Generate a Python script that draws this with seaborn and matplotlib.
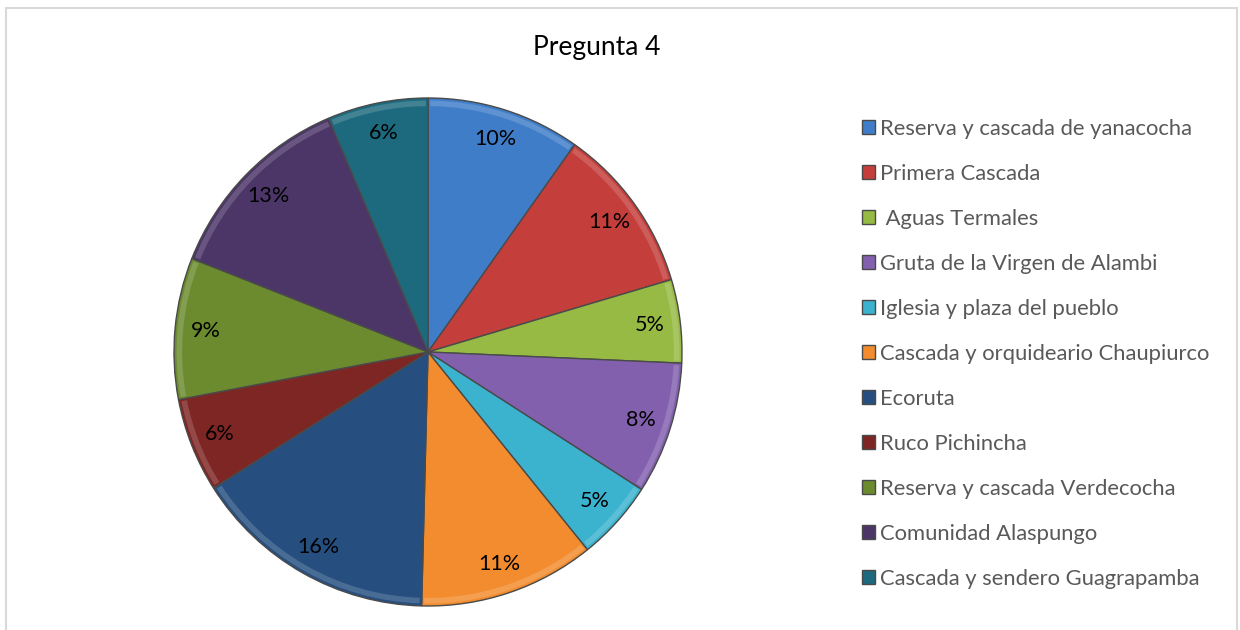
import matplotlib
matplotlib.use("Agg")
import matplotlib.pyplot as plt
import matplotlib.colors as mcolors
from matplotlib.patches import Wedge
import seaborn as sns

# Pregunta 4 - share of answers per attraction (percent)
places = [
    "Reserva y cascada de yanacocha",
    "Primera Cascada",
    " Aguas Termales",
    "Gruta de la Virgen de Alambi",
    "Iglesia y plaza del pueblo",
    "Cascada y orquideario Chaupiurco",
    "Ecoruta",
    "Ruco Pichincha",
    "Reserva y cascada Verdecocha",
    "Comunidad Alaspungo",
    "Cascada y sendero Guagrapamba",
]
shares = [9.8, 10.6, 5.3, 8.4, 5.1, 11.2, 15.6, 6.0, 9.0, 12.6, 6.4]
colors = ["#3F7DC8", "#C43E3B", "#97BA45", "#8260AE", "#3BB3CF", "#F28C2E",
          "#264F80", "#7E2624", "#6B8B2E", "#4C3668", "#1D6A7E"]

sns.set_theme(style="white")
plt.rcParams["font.family"] = ["Lato", "DejaVu Sans"]

fig = plt.figure(figsize=(12.4, 6.3), dpi=100)
ax = fig.add_axes([(428 - 254) / 1240, 24 / 630, 508 / 1240, 508 / 630])

def lighter(c, f=0.35):
    r, g, b = mcolors.to_rgb(c)
    return (r + (1 - r) * f, g + (1 - g) * f, b + (1 - b) * f)

wedges, texts, autotexts = ax.pie(
    shares, colors=colors, startangle=90, counterclock=False,
    autopct="%1.0f%%", pctdistance=0.88, radius=1,
    wedgeprops=dict(linewidth=1.0, edgecolor="#4a4a4a"),
    textprops=dict(fontsize=15.5, color="black"),
)
# soft bevel highlight along the rim of each slice
for w, c in zip(wedges, colors):
    ax.add_patch(Wedge((0, 0), 0.99, w.theta1 + 0.5, w.theta2 - 0.5, width=0.022,
                       facecolor=lighter(c, 0.3), edgecolor="none", alpha=0.55))
for t in autotexts:
    t.set_zorder(5)

ax.set_xlim(-1, 1)
ax.set_ylim(-1, 1)
ax.set_aspect("equal")
ax.axis("off")

fig.text(597 / 1240, 1 - 47 / 630, "Pregunta 4", ha="center", va="center",
         fontsize=19, color="black")

fig.legend(wedges, places, loc="upper left",
           bbox_to_anchor=(853 / 1240, 1 - 110 / 630),
           frameon=False, fontsize=15.8, labelcolor="#595959",
           handlelength=0.6, handleheight=0.6, handletextpad=0.25,
           labelspacing=1.14, borderaxespad=0)

# chart border
fig.add_artist(plt.Rectangle((6 / 1240, -0.01), 1231 / 1240, 1 - 8 / 630 + 0.01,
                             transform=fig.transFigure, fill=False,
                             edgecolor="#D9D9D9", linewidth=1.5))

fig.savefig("out.png", dpi=100)
